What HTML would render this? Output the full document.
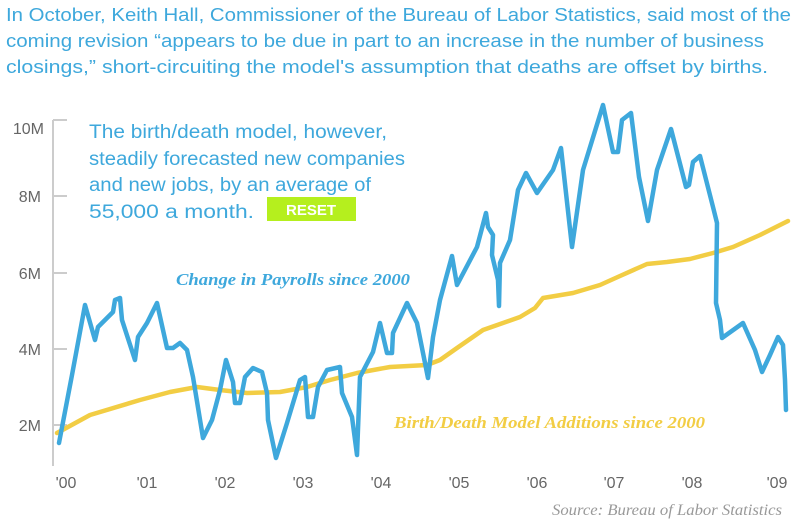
<!DOCTYPE html>
<html><head><meta charset="utf-8"><style>
html,body{margin:0;padding:0;background:#fff;}
svg{display:block;}
.h{font-family:"Liberation Sans",sans-serif;font-size:18.5px;fill:#3ea8dc;}
.a{font-family:"Liberation Sans",sans-serif;font-size:19px;fill:#3ea8dc;}
.t{font-family:"Liberation Sans",sans-serif;font-size:16px;fill:#666;}
</style></head><body>
<svg width="806" height="520" viewBox="0 0 806 520" xmlns="http://www.w3.org/2000/svg">
<text class="h" x="6" y="21" textLength="785" lengthAdjust="spacingAndGlyphs">In October, Keith Hall, Commissioner of the Bureau of Labor Statistics, said most of the</text>
<text class="h" x="6" y="47" textLength="758" lengthAdjust="spacingAndGlyphs">coming revision “appears to be due in part to an increase in the number of business</text>
<text class="h" x="6" y="73" textLength="762" lengthAdjust="spacingAndGlyphs">closings,” short-circuiting the model's assumption that deaths are offset by births.</text>

<g stroke="#ccc" stroke-width="2" fill="none">
<line x1="53" y1="120" x2="53" y2="466"/>
<line x1="53" y1="120" x2="67" y2="120"/>
<line x1="53" y1="196" x2="67" y2="196"/>
<line x1="53" y1="273" x2="67" y2="273"/>
<line x1="53" y1="349" x2="67" y2="349"/>
<line x1="53" y1="425" x2="67" y2="425"/>
</g>
<g class="t" text-anchor="end">
<text x="44" y="134">10M</text>
<text x="41" y="202">8M</text>
<text x="41" y="279">6M</text>
<text x="41" y="355">4M</text>
<text x="41" y="431">2M</text>
</g>
<g class="t" text-anchor="middle">
<text x="66" y="488">'00</text><text x="147" y="488">'01</text><text x="225" y="488">'02</text>
<text x="303" y="488">'03</text><text x="381" y="488">'04</text><text x="459" y="488">'05</text>
<text x="537" y="488">'06</text><text x="614" y="488">'07</text><text x="692" y="488">'08</text>
<text x="777" y="488">'09</text>
</g>

<text class="a" x="89" y="138" textLength="298" lengthAdjust="spacingAndGlyphs">The birth/death model, however,</text>
<text class="a" x="89" y="165" textLength="316" lengthAdjust="spacingAndGlyphs">steadily forecasted new companies</text>
<text class="a" x="89" y="191" textLength="282" lengthAdjust="spacingAndGlyphs">and new jobs, by an average of</text>
<text class="a" x="89" y="218" textLength="165" lengthAdjust="spacingAndGlyphs">55,000 a month.</text>
<rect x="267" y="197" width="89" height="24" fill="#b5ef1e"/>
<text x="311" y="215" text-anchor="middle" font-family="Liberation Sans,sans-serif" font-weight="bold" font-size="15" fill="#fff">RESET</text>

<text x="176" y="285" textLength="234" lengthAdjust="spacingAndGlyphs" font-family="Liberation Serif,serif" font-style="italic" font-weight="bold" font-size="17" fill="#3ea8dc">Change in Payrolls since 2000</text>
<text x="394" y="428" textLength="311" lengthAdjust="spacingAndGlyphs" font-family="Liberation Serif,serif" font-style="italic" font-weight="bold" font-size="17" fill="#f2cd44">Birth/Death Model Additions since 2000</text>
<text x="782" y="515" text-anchor="end" textLength="230" lengthAdjust="spacingAndGlyphs" font-family="Liberation Serif,serif" font-style="italic" font-size="16" fill="#999">Source: Bureau of Labor Statistics</text>

<polyline fill="none" stroke="#f2cd44" stroke-width="4.5" stroke-linejoin="round" stroke-linecap="round" points="57,433 90,415 140,400 170,392 197,387 220,390 247,393 280,392 307,387 330,380 357,373 390,367 427,365 440,360 457,348 483,330 520,317 535,308 543,298 573,293 600,285 620,276 647,264 667,262 690,259 713,253 733,247 760,235 788,221"/>
<polyline fill="none" stroke="#3ea8dc" stroke-width="4.5" stroke-linejoin="round" stroke-linecap="round" points="59,443 72,375 85,305 95,340 98,327 113,312 115,300 120,298 122,320 135,360 138,337 147,323 157,303 167,348 173,348 180,343 187,350 193,377 203,438 212,420 220,390 226,360 233,382 235,403 240,403 245,377 253,368 262,372 267,393 268,420 276,458 287,423 300,380 305,377 308,417 313,417 318,387 327,370 340,367 342,393 352,417 357,455 360,377 373,352 380,323 387,353 392,353 393,333 407,303 417,323 428,378 433,337 440,300 452,256 457,285 477,247 486,213 488,227 493,235 492,255 498,280 499,306 500,263 510,240 518,190 526,173 537,193 553,170 561,148 572,247 583,170 603,105 613,152 618,152 622,120 631,113 639,177 648,221 657,170 671,129 686,187 689,185 693,162 700,156 713,207 717,223 716,303 720,320 722,338 743,323 755,350 762,372 770,355 778,337 783,345 785,380 786,410"/>
</svg>
</body></html>
